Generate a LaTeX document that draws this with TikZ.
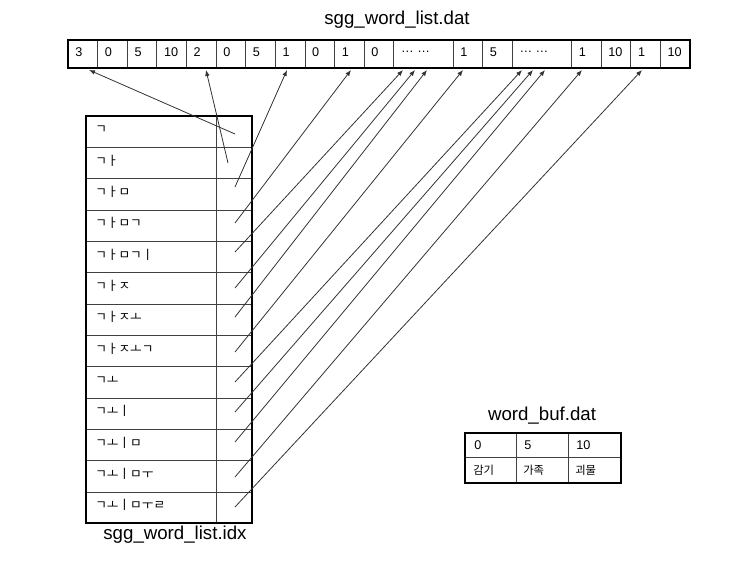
\documentclass[tikz,border=0pt]{standalone}
\usepackage{fontspec}
\setmainfont{Liberation Sans}
\setsansfont{Liberation Sans}
\newfontfamily\hangul{Noto Sans CJK KR}
\usetikzlibrary{arrows.meta}

\begin{document}
\begin{tikzpicture}[x=0.75pt, y=-0.75pt, font=\sffamily,
    frame/.style={line width=1.8pt},
    grid/.style={line width=0.6pt, black!75},
    link/.style={line width=0.6pt, black!80, -{Latex[length=4.5pt, width=3.5pt]}},
    val/.style={anchor=west, inner sep=0pt, font=\fontsize{9.5}{10}\selectfont},
    jamo/.style={anchor=west, inner sep=0pt, font=\hangul\fontsize{9.5}{10}\selectfont},
    word/.style={anchor=west, inner sep=0pt, font=\hangul\fontsize{8.5}{9}\selectfont},
    title/.style={font=\fontsize{14}{16}\selectfont}]

    % Page size of the reference (pixels, y pointing down)
    \useasboundingbox (0,0) rectangle (753,564);

    % File names
    \node[title] (datname) at (397,20) {sgg\_word\_list.dat};
    \node[title] (idxname) at (175,535) {sgg\_word\_list.idx};
    \node[title] (bufname) at (542,416) {word\_buf.dat};

    % sgg_word_list.dat: one long row of cells (unit width 29.62)
    \foreach \k in {1,...,11,13,14,15,17,18,19,20}
        \draw[grid] (68+\k*29.62,40) -- (68+\k*29.62,68);
    \draw[frame] (68,40) rectangle (690,68);
    \foreach \k/\v in {0/3, 1/0, 2/5, 3/10, 4/2, 5/0, 6/5, 7/1, 8/0, 9/1, 10/0,
                       11/{\dots\ \dots}, 13/1, 14/5, 15/{\dots\ \dots},
                       17/1, 18/10, 19/1, 20/10}
        \node[val] (v\k) at (68+\k*29.62+7,52) {\v};

    % sgg_word_list.idx: 13 rows, key and pointer column
    \foreach \r in {1,...,12}
        \draw[grid] (86,116+\r*31.33) -- (252,116+\r*31.33);
    \draw[grid] (216.7,116) -- (216.7,523);
    \draw[frame] (86,116) rectangle (252,523);
    \foreach \r/\w in {1/ㄱ, 2/ㄱㅏ, 3/ㄱㅏㅁ, 4/ㄱㅏㅁㄱ, 5/ㄱㅏㅁㄱㅣ, 6/ㄱㅏㅈ,
                       7/ㄱㅏㅈㅗ, 8/ㄱㅏㅈㅗㄱ, 9/ㄱㅗ, 10/ㄱㅗㅣ, 11/ㄱㅗㅣㅁ,
                       12/ㄱㅗㅣㅁㅜ, 13/ㄱㅗㅣㅁㅜㄹ}
        \node[jamo] (k\r) at (95,116+\r*31.33-18) {\w};

    % Pointers from the idx rows into the dat cells
    \foreach \i/\py/\tx in {1/134/89, 3/187/287, 4/223/351, 5/252/403,
                            6/288/415, 7/317/427, 8/352/463, 9/382/522,
                            10/412/533, 11/442/545, 12/477/582, 13/507/642} {
        \coordinate (p\i) at (235,\py);
        \coordinate (t\i) at (\tx,70);
    }
    \coordinate (p2) at (228,163);
    \coordinate (t2) at (206,70);
    \foreach \i in {1,...,13}
        \draw[link] (p\i) -- (t\i);

    % word_buf.dat: offsets over words
    \draw[grid] (465,457.5) -- (621,457.5);
    \draw[grid] (516,433) -- (516,483);
    \draw[grid] (568,433) -- (568,483);
    \draw[frame] (465,433) rectangle (621,483);
    \node[val] (o1) at (474,445) {0};
    \node[val] (o2) at (524,445) {5};
    \node[val] (o3) at (576,445) {10};
    \node[word] (w1) at (473,470) {감기};
    \node[word] (w2) at (523,470) {가족};
    \node[word] (w3) at (575,470) {괴물};

\end{tikzpicture}
\end{document}
